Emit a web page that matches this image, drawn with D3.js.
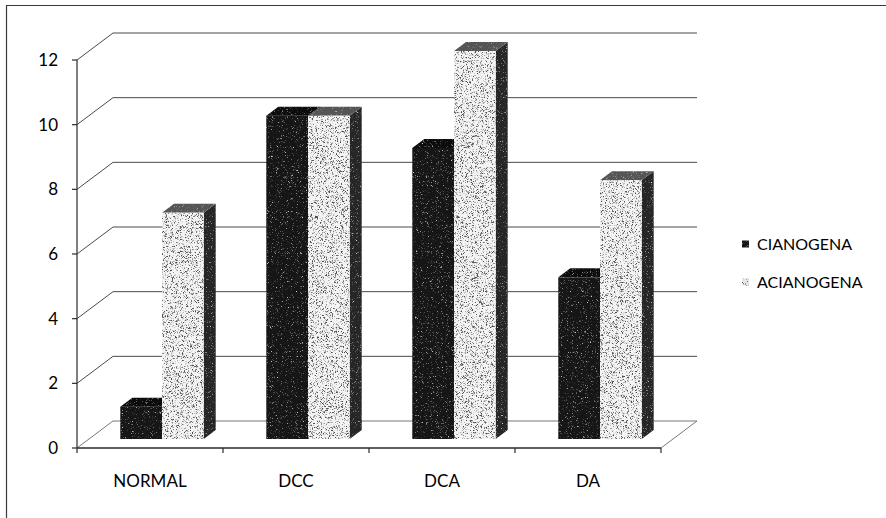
<!DOCTYPE html>
<html>
<head>
<meta charset="utf-8">
<script src="https://cdn.jsdelivr.net/npm/d3@7"></script>
<style>
  html, body { margin: 0; padding: 0; background: #fff; }
  svg { display: block; font-family: Lato, "Open Sans", sans-serif; }
</style>
</head>
<body>
<svg id="chart" width="886" height="518"></svg>
<script>
// Data
const categories = ["NORMAL", "DCC", "DCA", "DA"];
const seriesNames = ["CIANOGENA", "ACIANOGENA"];
const cianogena = [1, 10, 9, 5];
const acianogena = [7, 10, 12, 8];
const yTicks = [0, 2, 4, 6, 8, 10, 12];

const seriesValues = [cianogena, acianogena];

const svg = d3.select("#chart");
const W = 886, H = 518;

// 3D box geometry: front plane, full depth offset
const front = { left: 77, right: 661, bottom: 448, top: 60 };
const depth = { dx: 36, dy: -27 };
// bars occupy the middle third of the depth
const barOff = { dx: depth.dx / 3, dy: depth.dy / 3 };
const barDepth = { dx: depth.dx / 3, dy: depth.dy / 3 };

const y = d3.scaleLinear().domain([0, 12]).range([front.bottom, front.top]);
const x = d3.scaleBand().domain(categories).range([front.left, front.right]).padding(0);
const xs = d3.scaleBand().domain(seriesNames).range([0, x.bandwidth()])
  .paddingInner(0).paddingOuter(0.75);

// Grain filters for the textured bar faces
const defs = svg.append("defs");
function grain(id, dotColor, k, b, seed, freq) {
  const f = defs.append("filter").attr("id", id)
    .attr("x", 0).attr("y", 0).attr("width", 1).attr("height", 1)
    .attr("color-interpolation-filters", "sRGB");
  f.append("feTurbulence").attr("type", "fractalNoise")
    .attr("baseFrequency", freq).attr("numOctaves", 2).attr("seed", seed).attr("result", "n");
  const c = dotColor;
  f.append("feColorMatrix").attr("in", "n").attr("type", "matrix")
    .attr("values", `0 0 0 0 ${c}  0 0 0 0 ${c}  0 0 0 0 ${c}  ${k} 0 0 0 ${b}`)
    .attr("result", "dots");
  f.append("feComposite").attr("in", "dots").attr("in2", "SourceGraphic")
    .attr("operator", "in").attr("result", "clipped");
  const m = f.append("feMerge");
  m.append("feMergeNode").attr("in", "SourceGraphic");
  m.append("feMergeNode").attr("in", "clipped");
}
grain("grainLight", 0.3, 5, -2.65, 3, 1.8);
grain("grainDark", 0.85, 4, -2.45, 7, 1.8);

// Chart border (top and left edges)
const lineColor = "#3a3a3a";
svg.append("line").attr("x1", 6).attr("x2", W).attr("y1", 5.5).attr("y2", 5.5)
  .attr("stroke", lineColor).attr("stroke-width", 1.2);
svg.append("line").attr("x1", 6.5).attr("x2", 6.5).attr("y1", 5).attr("y2", H)
  .attr("stroke", lineColor).attr("stroke-width", 1.2);

// Walls: back-wall gridlines and side-wall diagonals
const grid = svg.append("g").attr("stroke", "#4a4a4a").attr("stroke-width", 1).attr("fill", "none");
yTicks.forEach(v => {
  const yy = y(v);
  if (v > 0) {
    grid.append("path")
      .attr("d", `M${front.left},${yy}L${front.left + depth.dx},${yy + depth.dy}L${front.right + depth.dx},${yy + depth.dy}`);
  }
});

// Floor outline
const fy = y(0);
svg.append("path")
  .attr("d", `M${front.left},${fy}L${front.left + depth.dx},${fy + depth.dy}L${front.right + depth.dx},${fy + depth.dy}L${front.right},${fy}`)
  .attr("fill", "none").attr("stroke", "#777").attr("stroke-width", 1);

// Bars
const faces = {
  CIANOGENA: { front: "#161616", side: "#0c0c0c", top: "#0c0c0c", grain: "grainDark" },
  ACIANOGENA: { front: "#f4f4f4", side: "#262626", top: "#555", grain: "grainLight" }
};
const barsG = svg.append("g");
categories.forEach((cat, i) => {
  seriesNames.forEach((s, j) => {
    const v = seriesValues[j][i];
    const x0 = x(cat) + xs(s) + barOff.dx;
    const x1 = x0 + xs.bandwidth();
    const yb = y(0) + barOff.dy;
    const yt = y(v) + barOff.dy;
    const dx = barDepth.dx, dy = barDepth.dy;
    const f = faces[s];
    const g = barsG.append("g");
    g.append("path")
      .attr("d", `M${x1},${yb}L${x1 + dx},${yb + dy}L${x1 + dx},${yt + dy}L${x1},${yt}Z`)
      .attr("fill", f.side).attr("filter", "url(#grainDark)");
    g.append("path")
      .attr("d", `M${x0},${yt}L${x0 + dx},${yt + dy}L${x1 + dx},${yt + dy}L${x1},${yt}Z`)
      .attr("fill", f.top).attr("filter", "url(#grainDark)");
    g.append("rect")
      .attr("x", x0).attr("y", yt).attr("width", x1 - x0).attr("height", yb - yt)
      .attr("fill", f.front).attr("filter", `url(#${f.grain})`);
  });
});

// Value axis
const axisG = svg.append("g").attr("stroke", "#2a2a2a");
axisG.append("line").attr("x1", front.left).attr("x2", front.left)
  .attr("y1", y(0)).attr("y2", y(12)).attr("stroke-width", 1.2);
yTicks.forEach(v => {
  axisG.append("line").attr("x1", front.left - 5).attr("x2", front.left)
    .attr("y1", y(v)).attr("y2", y(v)).attr("stroke-width", 1.2);
});
svg.append("g").selectAll("text").data(yTicks).join("text")
  .attr("x", 58).attr("y", d => y(d)).attr("dy", "0.36em")
  .attr("text-anchor", "end").attr("font-size", 17).attr("fill", "#000")
  .text(d => d);

// Category axis
axisG.append("line").attr("x1", front.left).attr("x2", front.right)
  .attr("y1", y(0)).attr("y2", y(0)).attr("stroke-width", 1.5);
const boundaries = categories.map(c => x(c)).concat([front.right]);
boundaries.forEach(bx => {
  axisG.append("line").attr("x1", bx).attr("x2", bx)
    .attr("y1", y(0)).attr("y2", y(0) + 5).attr("stroke-width", 1.2);
});
svg.append("g").selectAll("text").data(categories).join("text")
  .attr("x", d => x(d) + x.bandwidth() / 2).attr("y", 487)
  .attr("text-anchor", "middle").attr("font-size", 17).attr("fill", "#000")
  .text(d => d);

// Legend
const legend = svg.append("g");
const legendRows = [
  { name: seriesNames[0], y: 244, fill: "#161616", grain: "grainDark" },
  { name: seriesNames[1], y: 282, fill: "#e8e8e8", grain: "grainLight" }
];
legendRows.forEach(r => {
  legend.append("rect").attr("x", 742).attr("y", r.y - 3.5).attr("width", 7).attr("height", 7)
    .attr("fill", r.fill).attr("filter", `url(#${r.grain})`);
  legend.append("text").attr("x", 757).attr("y", r.y).attr("dy", "0.36em")
    .attr("font-size", 16).attr("fill", "#000").text(r.name);
});
</script>
</body>
</html>
